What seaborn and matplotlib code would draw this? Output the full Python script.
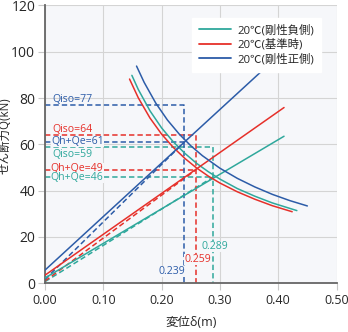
import matplotlib
matplotlib.use("Agg")
import matplotlib.pyplot as plt
import seaborn as sns
import pandas as pd

sns.set_theme(style="white")
plt.rcParams['font.family'] = ['Open Sans', 'Noto Sans CJK JP', 'DejaVu Sans']

# ---- data ----
series_names = ["20℃(剛性負側)", "20℃(基準時)", "20℃(剛性正側)"]
colors = ["#2fa89c", "#e6302a", "#2c5ca8"]

# ascending (stiffness) lines: endpoints
asc_x = [[0.0, 0.41], [0.0, 0.41], [0.0, 0.372]]
asc_q = [[2.3, 63.5], [3.5, 75.9], [5.7, 91.7]]

# descending curves
teal_x = [0.149, 0.16, 0.18, 0.20, 0.22, 0.24, 0.26, 0.28, 0.30, 0.33, 0.36, 0.39, 0.432]
teal_q = [89.8, 83.7, 74.5, 67.1, 61.1, 56.1, 51.8, 48.2, 45.0, 40.9, 37.6, 34.7, 31.4]
red_x = [0.145, 0.16, 0.18, 0.20, 0.22, 0.24, 0.26, 0.28, 0.30, 0.33, 0.36, 0.39, 0.424]
red_q = [88.2, 80.1, 71.4, 64.4, 58.7, 53.9, 49.8, 46.3, 43.3, 39.5, 36.3, 33.5, 30.9]
blue_x = [0.157, 0.17, 0.19, 0.21, 0.23, 0.25, 0.27, 0.30, 0.33, 0.36, 0.39, 0.42, 0.45]
blue_q = [93.8, 86.8, 77.8, 70.5, 64.5, 59.4, 55.1, 49.7, 45.3, 41.6, 38.4, 35.7, 33.4]
desc_x = [teal_x, red_x, blue_x]
desc_q = [teal_q, red_q, blue_q]

# design values
delta = [0.289, 0.259, 0.239]
q_iso = [59, 64, 77]
q_hqe = [46, 49, 61]
dashed_start = [0.7, 1.0, 1.7]

xticks = [0.0, 0.1, 0.2, 0.3, 0.4, 0.5]
yticks = [0, 20, 40, 60, 80, 100, 120]

bg = "#f6f7fa"

fig = plt.figure(figsize=(3.48, 3.32), dpi=100)
ax = fig.add_axes([45/348, (332-283.3)/332, (336.5-45)/348, (283.3-5.4)/332])
ax.set_facecolor(bg)

# dashed helper lines
for i in range(3):
    c = colors[i]
    dk = dict(color=c, lw=1.1, ls=(0, (3.5, 2.0)), zorder=2)
    ax.plot([0, delta[i], delta[i], delta[i]], [q_iso[i], q_iso[i], q_iso[i], 0], **dk)
    ax.plot([0, delta[i]], [q_hqe[i], q_hqe[i]], **dk)
    ax.plot([0, delta[i]], [dashed_start[i], q_hqe[i]], **dk)

# solid lines
for i in range(3):
    d1 = pd.DataFrame({"x": asc_x[i], "q": asc_q[i]})
    sns.lineplot(data=d1, x="x", y="q", ax=ax, color=colors[i], lw=1.1, sort=False,
                 label=series_names[i], zorder=3)
    d2 = pd.DataFrame({"x": desc_x[i], "q": desc_q[i]})
    sns.lineplot(data=d2, x="x", y="q", ax=ax, color=colors[i], lw=1.1, sort=False,
                 zorder=3)

# annotations
fs = 7.6
bb = dict(facecolor=bg, edgecolor="none", pad=0.0)
ax.text(0.013, 79.3, "Qiso=77", color=colors[2], fontsize=fs, va="center", ha="left", zorder=4)
ax.text(0.013, 66.6, "Qiso=64", color=colors[1], fontsize=fs, va="center", ha="left", zorder=4)
ax.text(0.011, 61.2, "Qh+Qe=61", color=colors[2], fontsize=fs, va="center", ha="left", zorder=4, bbox=bb)
ax.text(0.013, 55.8, "Qiso=59", color=colors[0], fontsize=fs, va="center", ha="left", zorder=4)
ax.text(0.010, 49.6, "Qh+Qe=49", color=colors[1], fontsize=fs, va="center", ha="left", zorder=4, bbox=bb)
ax.text(0.010, 45.5, "Qh+Qe=46", color=colors[0], fontsize=fs, va="center", ha="left", zorder=4, bbox=bb)

ax.text(delta[2] + 0.001, 5.3, f"{delta[2]:.3f}", color=colors[2], fontsize=fs, va="center", ha="right", zorder=4, bbox=bb)
ax.text(delta[1] + 0.003, 10.2, f"{delta[1]:.3f}", color=colors[1], fontsize=fs, va="center", ha="center", zorder=4, bbox=bb)
ax.text(delta[0] + 0.002, 15.9, f"{delta[0]:.3f}", color=colors[0], fontsize=fs, va="center", ha="center", zorder=4, bbox=bb)

ax.set_xlim(0, 0.5)
ax.set_ylim(0, 120)
ax.set_xticks(xticks)
ax.set_xticklabels([f"{v:.2f}" for v in xticks])
ax.set_yticks(yticks)
ax.set_yticklabels([str(v) for v in yticks])
ax.grid(True, color="#d4d4d4", lw=0.8)
ax.set_axisbelow(True)
ax.tick_params(axis="both", which="both", length=5, width=0.8, color="#c8c8c8",
               labelsize=10, pad=2, direction="out", left=True, bottom=True)
ax.tick_params(axis="x", labelsize=9, pad=3)
for s in ["top", "right"]:
    ax.spines[s].set_visible(False)
ax.spines["left"].set_color("#666666")
ax.spines["left"].set_linewidth(1.3)
ax.spines["bottom"].set_color("#666666")
ax.spines["bottom"].set_linewidth(1.3)

ax.set_xlabel("変位δ(m)", fontsize=9)
ax.xaxis.set_label_coords((191 - 45) / 291.5, -(315.5 - 283.3) / 277.9)
ax.set_ylabel("せん断力Q(kN)", fontsize=8.3)
ax.yaxis.set_label_coords(-(45 - 11.5) / 291.5, (283.3 - 136) / 277.9)

leg = ax.legend(loc="upper right", bbox_to_anchor=(0.967, 0.975), fontsize=8.2, frameon=True,
                facecolor="white", edgecolor="white", framealpha=1, fancybox=False,
                handlelength=2.8, handletextpad=0.6, labelspacing=0.25, borderpad=0.6)
for line in leg.get_lines():
    line.set_linewidth(1.3)

fig.savefig("out.png", dpi=100)
